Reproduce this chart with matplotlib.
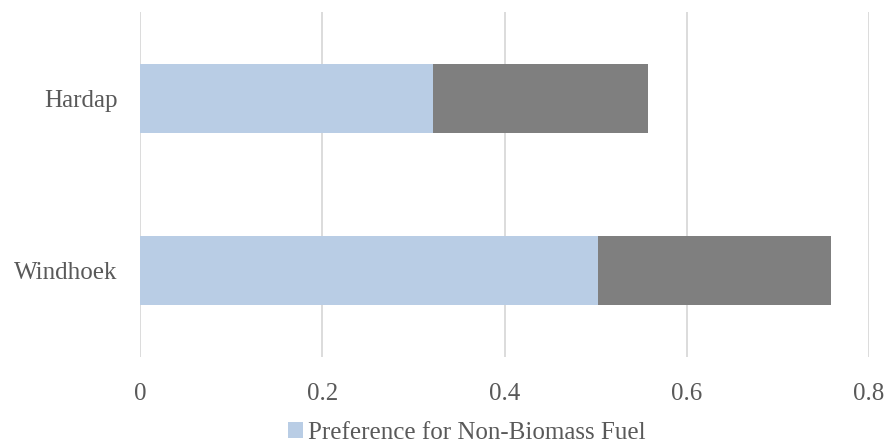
import matplotlib.pyplot as plt

# regions, bottom to top
regions = ['Windhoek', 'Hardap']
non_biomass = [0.502, 0.322]
other_share = [0.256, 0.235]
x_ticks = [0, 0.2, 0.4, 0.6, 0.8]
x_tick_labels = ['0', '0.2', '0.4', '0.6', '0.8']

plt.rcParams['font.family'] = ['Liberation Serif', 'DejaVu Serif']

fig = plt.figure(figsize=(8.88, 4.44), dpi=100)
ax = fig.add_axes([0.1577, 0.196, 0.821, 0.777])

y = range(len(regions))
ax.barh(y, non_biomass, height=0.4, color='#B9CDE5',
        label='Preference for Non-Biomass Fuel', zorder=3)
ax.barh(y, other_share, left=non_biomass, height=0.4, color='#7F7F7F',
        label='_nolegend_', zorder=3)

ax.set_xlim(0, 0.8)
ax.set_ylim(-0.5, 1.5)
ax.set_xticks(x_ticks)
ax.set_xticklabels(x_tick_labels)
ax.set_yticks(list(y))
ax.set_yticklabels(regions)

ax.grid(axis='x', color='#D9D9D9', linewidth=1.3, zorder=0)
ax.tick_params(axis='both', length=0, labelsize=18, labelcolor='#595959')
ax.tick_params(axis='x', pad=19)
ax.tick_params(axis='y', pad=16)
for side in ax.spines.values():
    side.set_visible(False)

fig.legend(loc='lower center', bbox_to_anchor=(0.526, -0.05), frameon=False,
           fontsize=18, labelcolor='#595959', handlelength=0.6, handleheight=0.6,
           handletextpad=0.2)

fig.savefig('out.png', dpi=100)
